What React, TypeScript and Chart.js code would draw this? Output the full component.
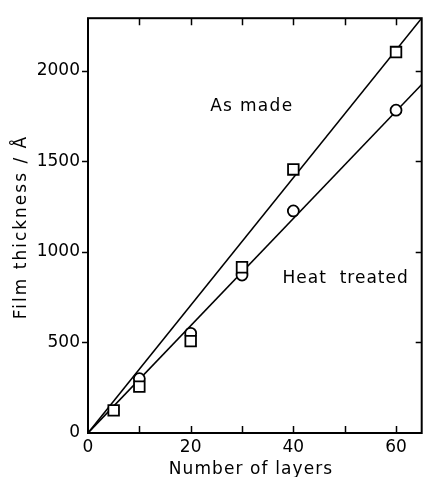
import React, { useEffect, useRef } from "react";
import { Chart, registerables } from "chart.js";

Chart.register(...registerables);

// Measured film thickness (Å) against number of deposited layers
const asMadeLayers = [5, 10, 20, 30, 40, 60];
const asMadeThickness = [125, 256, 507, 915, 1455, 2103];
const heatLayers = [10, 20, 30, 40, 60];
const heatThickness = [300, 550, 872, 1226, 1782];

// Straight-line fits through the origin
const asMadeFitLayers = [0, 65];
const asMadeFitThickness = [0, 2290];
const heatFitLayers = [0, 65];
const heatFitThickness = [0, 1924];

// Axis ticks
const xTickLabels = [0, 20, 40, 60];
const xTickMarks = [10, 20, 30, 40, 50, 60];
const yTickLabels = [0, 500, 1000, 1500, 2000];
const yTickMarks = [500, 1000, 1500, 2000];

const FONT = "'DejaVu Sans', sans-serif";

const toPoints = (xs: number[], ys: number[]) => xs.map((x, i) => ({ x, y: ys[i] }));

const framePlugin = {
  id: "frameAndLabels",
  afterDraw(chart: any) {
    const { ctx, chartArea } = chart;
    const { left, right, top, bottom } = chartArea;
    const xs = chart.scales.x;
    const ys = chart.scales.y;
    ctx.save();
    ctx.strokeStyle = "#000";
    ctx.lineWidth = 2;
    ctx.strokeRect(left, top, right - left, bottom - top);

    ctx.lineWidth = 1.5;
    ctx.beginPath();
    for (const v of xTickMarks) {
      const px = Math.round(xs.getPixelForValue(v)) + 0.5;
      ctx.moveTo(px, bottom);
      ctx.lineTo(px, bottom - 7);
      ctx.moveTo(px, top);
      ctx.lineTo(px, top + 7);
    }
    for (const v of yTickMarks) {
      const py = Math.round(ys.getPixelForValue(v)) + 0.5;
      ctx.moveTo(left, py);
      ctx.lineTo(left - 6, py);
      ctx.moveTo(right, py);
      ctx.lineTo(right - 6, py);
    }
    ctx.stroke();

    ctx.fillStyle = "#000";
    ctx.font = `17px ${FONT}`;
    ctx.textBaseline = "middle";
    ctx.textAlign = "left";
    (ctx as any).letterSpacing = "1.3px";
    ctx.fillText("As made", xs.getPixelForValue(23.8), ys.getPixelForValue(1800));
    (ctx as any).letterSpacing = "1px";
    ctx.fillText("Heat  treated", xs.getPixelForValue(37.9), ys.getPixelForValue(850));

    ctx.textAlign = "center";
    (ctx as any).letterSpacing = "1.1px";
    ctx.fillText("Number of layers", 251, 470);

    ctx.translate(22, 227);
    ctx.rotate(-Math.PI / 2);
    (ctx as any).letterSpacing = "2px";
    ctx.fillText("Film thickness / Å", 0, 0);
    ctx.restore();
  },
};

export default function App() {
  const canvasRef = useRef<HTMLCanvasElement | null>(null);

  useEffect(() => {
    document.body.style.margin = "0";
    const canvas = canvasRef.current;
    if (!canvas) return;
    const chart = new Chart(canvas, {
      type: "scatter",
      data: {
        datasets: [
          {
            label: "As made",
            data: toPoints(asMadeLayers, asMadeThickness),
            pointStyle: "rect",
            pointRadius: 7.5,
            borderWidth: 1.8,
            borderColor: "#000",
            backgroundColor: "#fff",
          },
          {
            label: "Heat treated",
            data: toPoints(heatLayers, heatThickness),
            pointStyle: "circle",
            pointRadius: 5.5,
            borderWidth: 1.8,
            borderColor: "#000",
            backgroundColor: "#fff",
          },
          {
            label: "As made fit",
            data: toPoints(asMadeFitLayers, asMadeFitThickness),
            showLine: true,
            pointRadius: 0,
            borderWidth: 1.6,
            borderColor: "#000",
          },
          {
            label: "Heat treated fit",
            data: toPoints(heatFitLayers, heatFitThickness),
            showLine: true,
            pointRadius: 0,
            borderWidth: 1.6,
            borderColor: "#000",
          },
        ],
      },
      options: {
        animation: false,
        responsive: false,
        devicePixelRatio: 1,
        layout: { padding: { top: 13, right: 3, left: 0, bottom: 0 } },
        plugins: {
          legend: { display: false },
          tooltip: { enabled: false },
        },
        scales: {
          x: {
            type: "linear",
            min: 0,
            max: 65,
            grid: { display: false, drawTicks: false },
            border: { display: false },
            afterBuildTicks: (s: any) => {
              s.ticks = xTickLabels.map((v) => ({ value: v }));
            },
            afterFit: (s: any) => {
              s.height = 44;
            },
            ticks: {
              color: "#000",
              font: { family: FONT, size: 17 },
              padding: 4,
              maxRotation: 0,
              callback: (v: any) => String(v),
            },
          },
          y: {
            type: "linear",
            min: 0,
            max: 2290,
            grid: { display: false, drawTicks: false },
            border: { display: false },
            afterBuildTicks: (s: any) => {
              s.ticks = yTickLabels.map((v) => ({ value: v }));
            },
            afterFit: (s: any) => {
              s.width = 88;
            },
            ticks: {
              color: "#000",
              font: { family: FONT, size: 17 },
              padding: 8,
              callback: (v: any) => String(v),
            },
          },
        },
      },
      plugins: [framePlugin],
    });
    return () => chart.destroy();
  }, []);

  return <canvas ref={canvasRef} width={431} height={477} />;
}
